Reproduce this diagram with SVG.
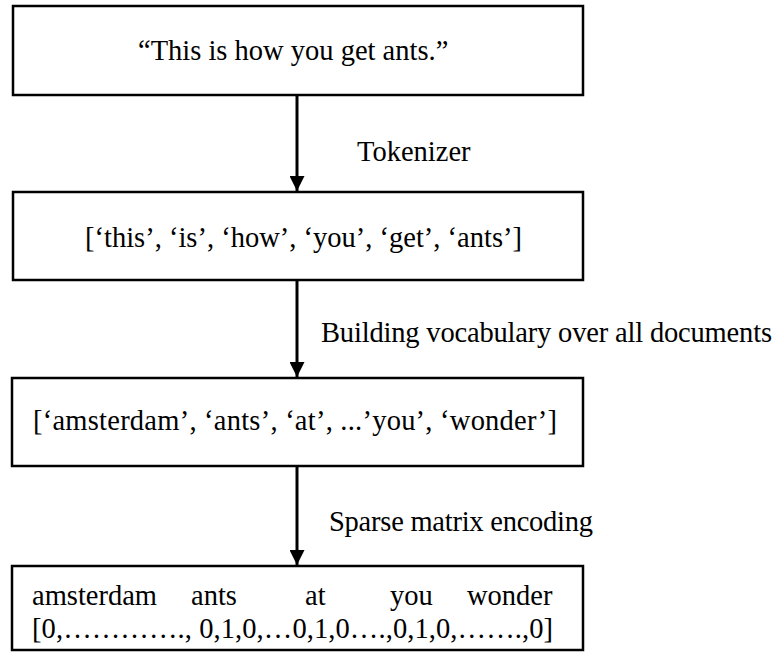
<svg xmlns="http://www.w3.org/2000/svg" width="776" height="652" viewBox="0 0 776 652">
<style>
.box{fill:#fff;stroke:#000;stroke-width:2.5}
.t{font-family:'Liberation Serif','Times New Roman','DejaVu Serif','Noto Serif',serif;font-size:28.5px;fill:#000}
.c{stroke:#000;stroke-width:3;fill:none}
</style>
<defs>
<marker id="ah" viewBox="0 0 10 10" refX="10" refY="5" markerWidth="5" markerHeight="5" markerUnits="strokeWidth" orient="auto">
<path d="M0,0 L10,5 L0,10 Z" fill="#000"/>
</marker>
</defs>
<rect width="776" height="652" fill="#fff"/>
<g id="connectors" font-family="Liberation Serif, serif">
<line class="c" x1="297" y1="95" x2="297" y2="191" marker-end="url(#ah)"/>
<line class="c" x1="297" y1="280" x2="297" y2="377" marker-end="url(#ah)"/>
<line class="c" x1="297" y1="466" x2="297" y2="565" marker-end="url(#ah)"/>
<text class="t" x="357" y="161">Tokenizer</text>
<text class="t" x="321" y="342" textLength="451">Building vocabulary over all documents</text>
<text class="t" x="329" y="531" textLength="264">Sparse matrix encoding</text>
</g>
<g id="n1" font-family="Liberation Serif, serif">
<rect class="box" x="13" y="6" width="570" height="89"/>
<text class="t" x="138" y="60">“This is how you get ants.”</text>
</g>
<g id="n2" font-family="Liberation Serif, serif">
<rect class="box" x="13" y="192" width="570" height="88"/>
<text class="t" x="85" y="247" textLength="437">[‘this’, ‘is’, ‘how’, ‘you’, ‘get’, ‘ants’]</text>
</g>
<g id="n3" font-family="Liberation Serif, serif">
<rect class="box" x="12" y="378" width="571" height="88"/>
<text class="t" x="33" y="430" textLength="524">[‘amsterdam’, ‘ants’, ‘at’, ...’you’, ‘wonder’]</text>
</g>
<g id="n4" font-family="Liberation Serif, serif">
<rect class="box" x="12" y="566" width="571" height="84"/>
<text class="t" y="605"><tspan x="32">amsterdam</tspan><tspan x="191">ants</tspan><tspan x="305">at</tspan><tspan x="390">you</tspan><tspan x="467">wonder</tspan></text>
<text class="t" x="32" y="638" textLength="521">[0,…………., 0,1,0,…0,1,0….,0,1,0,…….,0]</text>
</g>
</svg>
